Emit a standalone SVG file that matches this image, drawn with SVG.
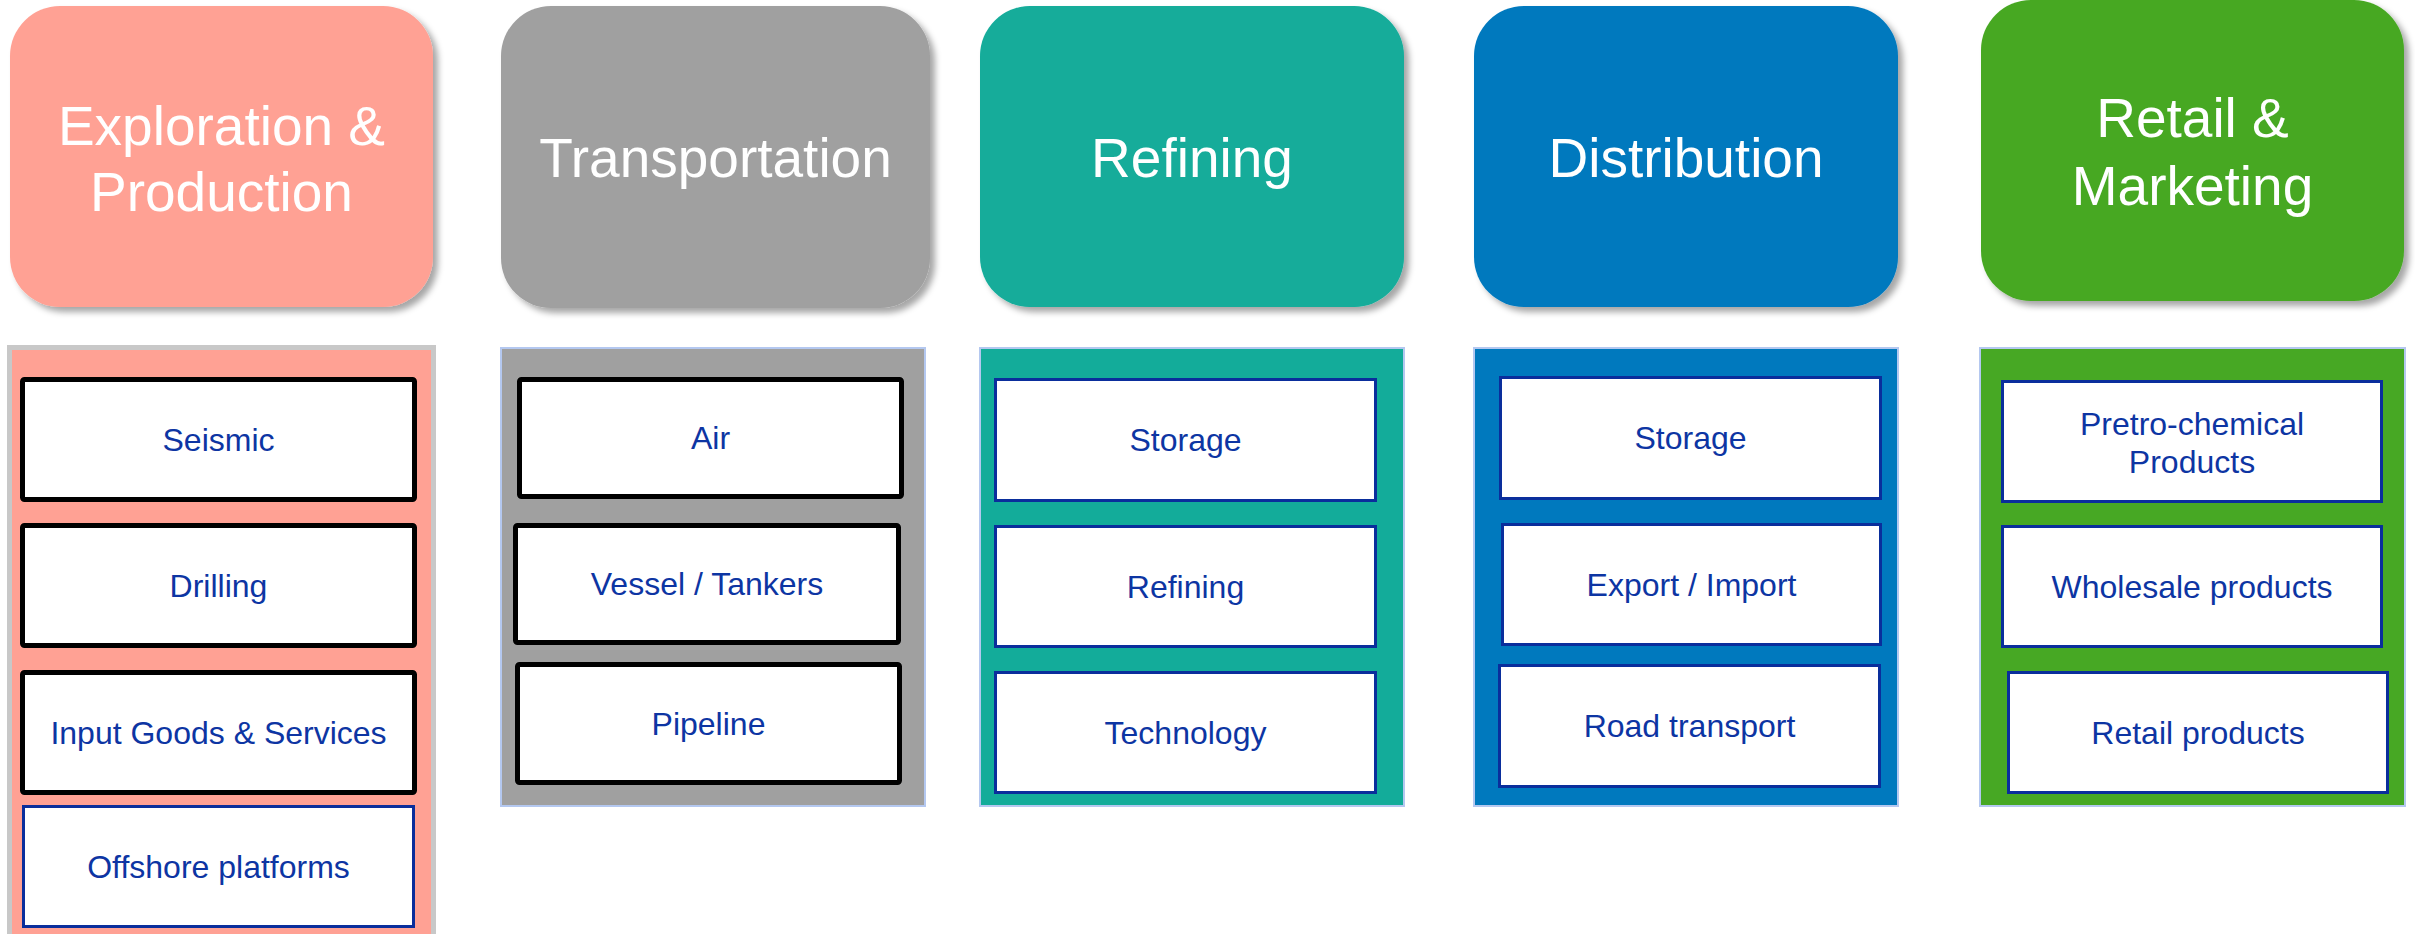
<svg xmlns="http://www.w3.org/2000/svg" width="2415" height="934" viewBox="0 0 2415 934">
<style>
.hdr{font-family:"Liberation Sans",Arial,sans-serif;font-size:55px;fill:#ffffff;text-anchor:middle}
.lbl{font-family:"Liberation Sans",Arial,sans-serif;font-size:32px;fill:#0d35a3;text-anchor:middle}
.pnl{stroke:#b4c8f0;stroke-width:2}
.bk{fill:#ffffff;stroke:#000000;stroke-width:5}
.bl{fill:#ffffff;stroke:#0a2e9c;stroke-width:3}
</style>
<defs>
<filter id="sh" x="-5%" y="-5%" width="115%" height="115%">
<feDropShadow dx="5" dy="5" stdDeviation="3" flood-color="#000000" flood-opacity="0.35"/>
</filter>
</defs>
<rect width="2415" height="934" fill="#ffffff"/>
<g id="exploration-production">
<rect x="10" y="6" width="423" height="301" rx="50" fill="#ffa194" filter="url(#sh)"/>
<text class="hdr" x="221.5" y="145">Exploration &amp;</text>
<text class="hdr" x="221.5" y="211">Production</text>
<rect x="9.5" y="347.5" width="424" height="600" fill="#ffa194" stroke="#c8c8c8" stroke-width="5"/>
<g id="seismic"><rect class="bk" x="22.5" y="379.5" width="392" height="120" rx="2"/><text class="lbl" x="218.5" y="451">Seismic</text></g>
<g id="drilling"><rect class="bk" x="22.5" y="525.5" width="392" height="120" rx="2"/><text class="lbl" x="218.5" y="597">Drilling</text></g>
<g id="input-goods"><rect class="bk" x="22.5" y="672.5" width="392" height="120" rx="2"/><text class="lbl" x="218.5" y="744">Input Goods &amp; Services</text></g>
<g id="offshore"><rect class="bl" x="23.5" y="806.5" width="390" height="120"/><text class="lbl" x="218.5" y="878">Offshore platforms</text></g>
</g>
<g id="transportation">
<rect x="501" y="6" width="429" height="302" rx="50" fill="#a0a0a0" filter="url(#sh)"/>
<text class="hdr" x="715.5" y="177">Transportation</text>
<rect class="pnl" x="501" y="348" width="424" height="458" fill="#a0a0a0"/>
<g id="air"><rect class="bk" x="519.5" y="379.5" width="382" height="117" rx="2"/><text class="lbl" x="710.5" y="449">Air</text></g>
<g id="vessel"><rect class="bk" x="515.5" y="525.5" width="383" height="117" rx="2"/><text class="lbl" x="707" y="595">Vessel / Tankers</text></g>
<g id="pipeline"><rect class="bk" x="517.5" y="664.5" width="382" height="118" rx="2"/><text class="lbl" x="708.5" y="735">Pipeline</text></g>
</g>
<g id="refining">
<rect x="980" y="6" width="424" height="301" rx="50" fill="#13ac9a" filter="url(#sh)"/>
<text class="hdr" x="1192" y="177">Refining</text>
<rect class="pnl" x="980" y="348" width="424" height="458" fill="#13ac9a"/>
<g id="ref-storage"><rect class="bl" x="995.5" y="379.5" width="380" height="121"/><text class="lbl" x="1185.5" y="451">Storage</text></g>
<g id="ref-refining"><rect class="bl" x="995.5" y="526.5" width="380" height="120"/><text class="lbl" x="1185.5" y="598">Refining</text></g>
<g id="ref-technology"><rect class="bl" x="995.5" y="672.5" width="380" height="120"/><text class="lbl" x="1185.5" y="744">Technology</text></g>
</g>
<g id="distribution">
<rect x="1474" y="6" width="424" height="301" rx="50" fill="#0079be" filter="url(#sh)"/>
<text class="hdr" x="1686" y="177">Distribution</text>
<rect class="pnl" x="1474" y="348" width="424" height="458" fill="#0079be"/>
<g id="dist-storage"><rect class="bl" x="1500.5" y="377.5" width="380" height="121"/><text class="lbl" x="1690.5" y="449">Storage</text></g>
<g id="dist-export"><rect class="bl" x="1502.5" y="524.5" width="378" height="120"/><text class="lbl" x="1691.5" y="596">Export / Import</text></g>
<g id="dist-road"><rect class="bl" x="1499.5" y="665.5" width="380" height="121"/><text class="lbl" x="1689.5" y="737">Road transport</text></g>
</g>
<g id="retail-marketing">
<rect x="1981" y="0" width="423" height="301" rx="50" fill="#47a824" filter="url(#sh)"/>
<text class="hdr" x="2192.5" y="137">Retail &amp;</text>
<text class="hdr" x="2192.5" y="205">Marketing</text>
<rect class="pnl" x="1980" y="348" width="425" height="458" fill="#47a824"/>
<g id="petro"><rect class="bl" x="2002.5" y="381.5" width="379" height="120"/><text class="lbl" x="2192" y="435">Pretro-chemical</text><text class="lbl" x="2192" y="473">Products</text></g>
<g id="wholesale"><rect class="bl" x="2002.5" y="526.5" width="379" height="120"/><text class="lbl" x="2192" y="598">Wholesale products</text></g>
<g id="retail-products"><rect class="bl" x="2008.5" y="672.5" width="379" height="120"/><text class="lbl" x="2198" y="744">Retail products</text></g>
</g>
<g id="connectors"></g>
</svg>
